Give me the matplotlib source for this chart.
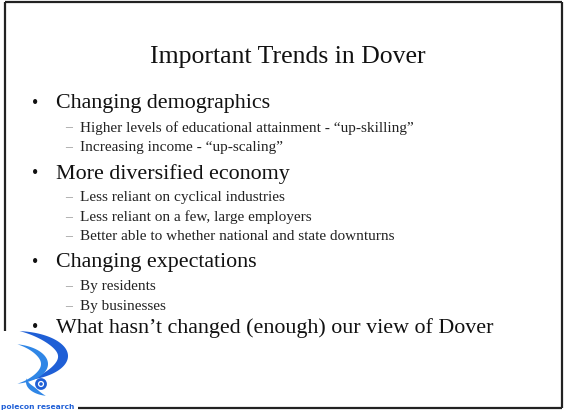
import matplotlib
matplotlib.use('Agg')
from matplotlib import pyplot as plt
from matplotlib.patches import Circle, Polygon
import numpy as np

title = 'Important Trends in Dover'

bullets = [
    'Changing demographics',
    'More diversified economy',
    'Changing expectations',
    'What hasn\u2019t changed (enough) our view of Dover',
]
bullet_y = [104, 174, 263, 328]

sub_items = [
    ['Higher levels of educational attainment - \u201cup-skilling\u201d',
     'Increasing income - \u201cup-scaling\u201d'],
    ['Less reliant on cyclical industries',
     'Less reliant on a few, large employers',
     'Better able to whether national and state downturns'],
    ['By residents',
     'By businesses'],
    [],
]
sub_gap = 19.5


def crescent(cx, cy, rx, ry, t0, t1, w):
    # thin-ended swoosh for the logo
    t = np.radians(np.linspace(t0, t1, 60))
    k = w * np.sin(np.linspace(0, np.pi, 60))
    outer = np.c_[cx + rx * np.cos(t), cy + ry * np.sin(t)]
    inner = np.c_[cx + (rx - k) * np.cos(t), cy + (ry - k) * np.sin(t)]
    return np.vstack([outer, inner[::-1]])


if __name__ == '__main__':
    fig = plt.figure(figsize=(5.66, 4.14), dpi=100)
    ax = fig.add_axes([0, 0, 1, 1])
    ax.set_xlim(0, 566)
    ax.set_ylim(414, 0)
    ax.axis('off')

    serif = ['Liberation Serif', 'DejaVu Serif']

    # slide frame (logo covers the lower-left corner)
    frame = dict(color='#222222', lw=1.6, solid_capstyle='butt')
    ax.plot([5, 562], [3, 3], **frame)
    ax.plot([562, 562], [3, 409], **frame)
    ax.plot([78, 562], [409, 409], **frame)
    ax.plot([5, 5], [3, 332], **frame)

    ax.text(288, 57, title, ha='center', va='center', fontsize=18.5,
            family=serif, color='#111111')

    for b, y, subs in zip(bullets, bullet_y, sub_items):
        ax.text(35, y, '\u2022', ha='center', va='center', fontsize=13,
                family=serif, color='#111111')
        ax.text(56, y, b, ha='left', va='center', fontsize=15.8,
                family=serif, color='#111111')
        for i, s in enumerate(subs):
            sy = y + 24 + i * sub_gap
            ax.text(65, sy, '\u2013', ha='left', va='center', fontsize=10,
                    family=serif, color='#999999')
            ax.text(80, sy, s, ha='left', va='center', fontsize=11,
                    family=serif, color='#222222')

    # polecon logo
    blue = '#1f5fd6'
    light = '#2f86e6'
    ax.add_patch(Polygon(crescent(15, 357, 53, 25, -85, 75, 10),
                         fc=blue, ec='none', zorder=4))
    ax.add_patch(Polygon(crescent(11, 365, 37, 20, -80, 80, 7),
                         fc=light, ec='none', zorder=4))
    ax.add_patch(Polygon(crescent(50, 383, 24, 14, 100, 195, 5),
                         fc=light, ec='none', zorder=4))
    ax.add_patch(Circle((41, 385), 4.5, fc='none', ec=blue, lw=2, zorder=4))
    ax.add_patch(Circle((41, 385), 1.8, fc=blue, ec='none', zorder=4))
    ax.text(1, 407, 'polecon research', ha='left', va='center', fontsize=5.4,
            family=['DejaVu Sans'], color=blue, weight='bold', zorder=5)

    fig.savefig('out.png', dpi=100, facecolor='white')
